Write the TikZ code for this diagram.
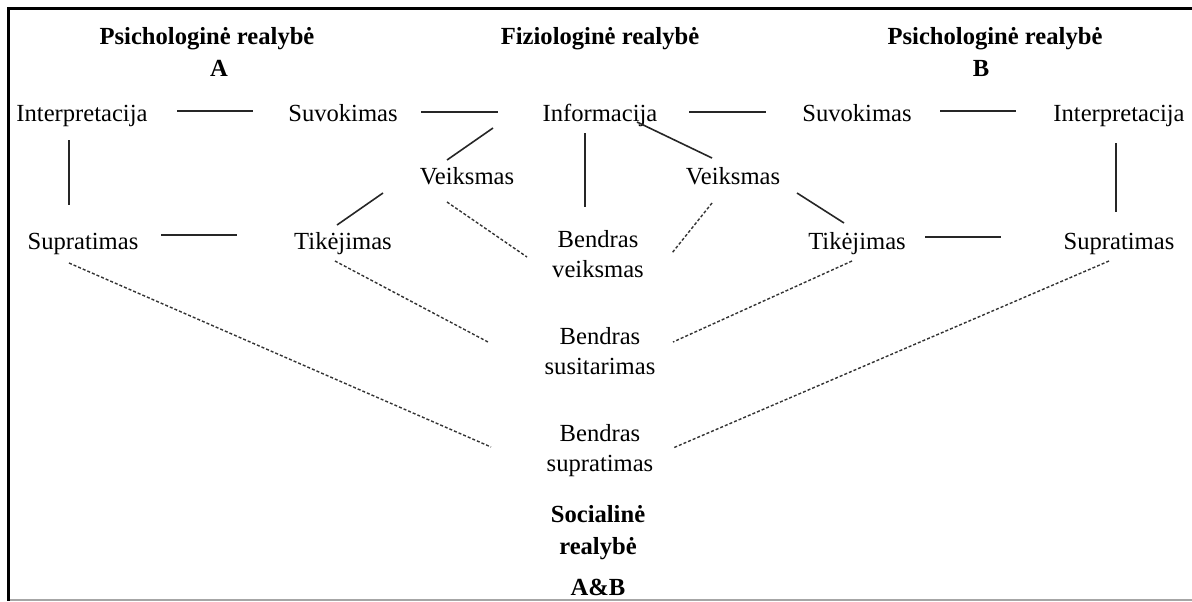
\documentclass[tikz,border=0pt]{standalone}
\usepackage{fontspec}
\setmainfont{Liberation Serif}
\tikzset{
  txt/.style={anchor=base, inner sep=0pt, align=center, font=\fontsize{12.3}{15}\selectfont},
  ttl/.style={anchor=base, inner sep=0pt, align=center, font=\fontsize{12.3}{16}\selectfont\bfseries},
  ln/.style={line width=0.8pt, color=black!85},
  dln/.style={line width=0.7pt, color=black!80, dash pattern=on 1.5pt off 1pt}
}

\begin{document}
\begin{tikzpicture}[x=0.5pt,y=0.5pt,yscale=-1,xscale=1]
    \useasboundingbox (0,0) rectangle (1192,601);
    
    %Frame
    \draw [line width=1.75pt] (1192,8.5) -- (8.5,8.5) -- (8.5,601) ;
    \draw [line width=0.75pt, color=black!35] (10,600) -- (1192,600) ;
    
    % Text Node
    \node [ttl] (titleA) at (207,44) {Psichologinė realybė};
    \node [ttl] (letA) at (219,76) {A};
    \node [ttl] (titleF) at (600,44) {Fiziologinė realybė};
    \node [ttl] (titleB) at (995,44) {Psichologinė realybė};
    \node [ttl] (letB) at (981,76) {B};
    % Text Node
    \node [txt] (interpA) at (82,121) {Interpretacija};
    \node [txt] (suvA) at (343,121) {Suvokimas};
    \node [txt] (info) at (600,121) {Informacija};
    \node [txt] (suvB) at (857,121) {Suvokimas};
    \node [txt] (interpB) at (1119,121) {Interpretacija};
    % Text Node
    \node [txt] (veiksA) at (467,184) {Veiksmas};
    \node [txt] (veiksB) at (733,184) {Veiksmas};
    % Text Node
    \node [txt] (supA) at (83,249) {Supratimas};
    \node [txt] (tikA) at (343,249) {Tikėjimas};
    \node [txt] (bveiks) at (598,277) {Bendras\\veiksmas};
    \node [txt] (tikB) at (857,249) {Tikėjimas};
    \node [txt] (supB) at (1119,249) {Supratimas};
    % Text Node
    \node [txt] (bsusit) at (600,374) {Bendras\\susitarimas};
    \node [txt] (bsuprat) at (600,471) {Bendras\\supratimas};
    \node [ttl] (social) at (598,595) {Socialinė\\realybė\\[4.5pt]A\&B};
    
    %Straight Lines
    \draw [ln] ([shift={(95,-10)}]interpA.base) -- ([shift={(-90,-10)}]suvA.base) ;
    \draw [ln] ([shift={(78,-9)}]suvA.base) -- ([shift={(-102,-9)}]info.base) ;
    \draw [ln] ([shift={(89,-9)}]info.base) -- ([shift={(-91,-9)}]suvB.base) ;
    \draw [ln] ([shift={(83,-10)}]suvB.base) -- ([shift={(-103,-10)}]interpB.base) ;
    %Straight Lines
    \draw [ln] ([shift={(-13,19)}]interpA.base) -- ([shift={(-14,-44)}]supA.base) ;
    \draw [ln] ([shift={(-3,22)}]interpB.base) -- ([shift={(-3,-37)}]supB.base) ;
    \draw [ln] ([shift={(78,-14)}]supA.base) -- ([shift={(-106,-14)}]tikA.base) ;
    \draw [ln] ([shift={(68,-12)}]tikB.base) -- ([shift={(-118,-12)}]supB.base) ;
    %Straight Lines
    \draw [ln] ([shift={(-107,7)}]info.base) -- ([shift={(-20,-24)}]veiksA.base) ;
    \draw [ln] ([shift={(-84,9)}]veiksA.base) -- ([shift={(-6,-24)}]tikA.base) ;
    \draw [ln] ([shift={(-15,12)}]info.base) -- ([shift={(-13,-70)}]bveiks.base) ;
    \draw [ln] ([shift={(37,1)}]info.base) -- ([shift={(-21,-26)}]veiksB.base) ;
    \draw [ln] ([shift={(64,9)}]veiksB.base) -- ([shift={(-13,-26)}]tikB.base) ;
    
    %Dotted Lines
    \draw [dln] ([shift={(-20,18)}]veiksA.base) -- ([shift={(-71,-20)}]bveiks.base) ;
    \draw [dln] ([shift={(-21,19)}]veiksB.base) -- ([shift={(74,-24)}]bveiks.base) ;
    \draw [dln] ([shift={(-8,12)}]tikA.base) -- ([shift={(-112,-32)}]bsusit.base) ;
    \draw [dln] ([shift={(-5,12)}]tikB.base) -- ([shift={(73,-32)}]bsusit.base) ;
    \draw [dln] ([shift={(-14,14)}]supA.base) -- ([shift={(-109,-24)}]bsuprat.base) ;
    \draw [dln] ([shift={(-10,12)}]supB.base) -- ([shift={(73,-23)}]bsuprat.base) ;
    
\end{tikzpicture}
\end{document}
